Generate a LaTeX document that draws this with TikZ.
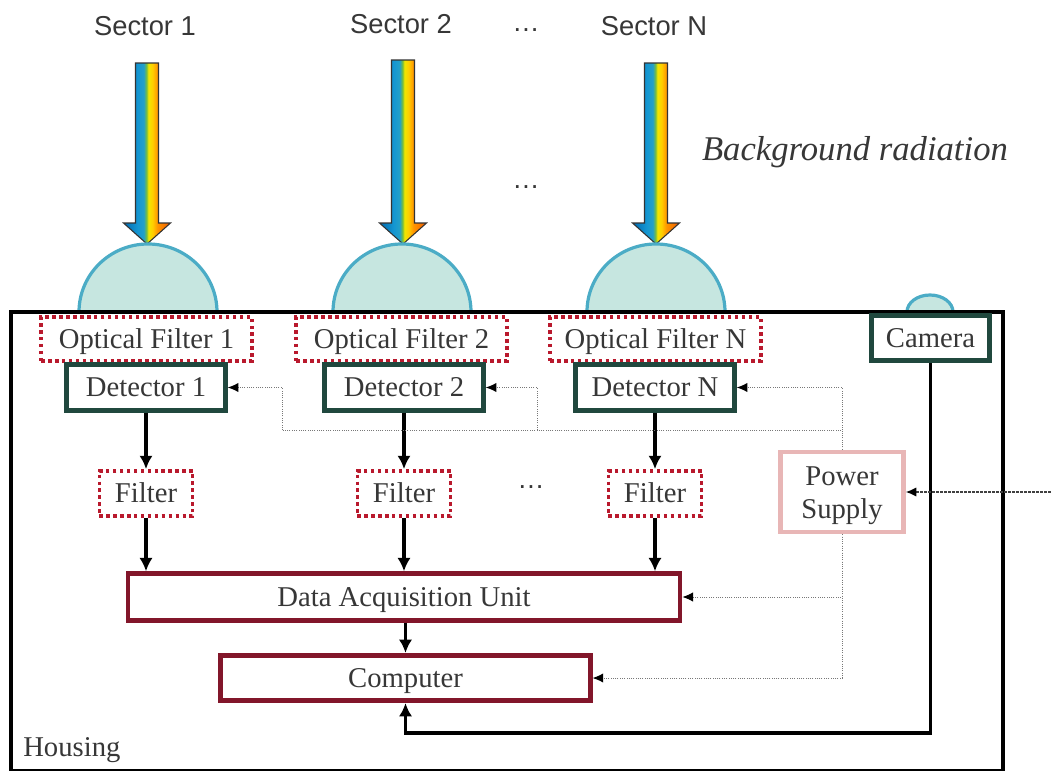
\documentclass[tikz,border=0pt]{standalone}
\usepackage{fontspec}
\setmainfont{Liberation Serif}
\newfontfamily\sectorfont{Liberation Sans}
\usetikzlibrary{arrows.meta}
\definecolor{txt}{RGB}{55,55,55}
\definecolor{ofred}{RGB}{185,25,45}
\definecolor{detgreen}{RGB}{32,72,62}
\definecolor{daqred}{RGB}{130,22,42}
\definecolor{pspink}{RGB}{232,182,182}
\definecolor{domefill}{RGB}{198,230,224}
\definecolor{domeline}{RGB}{75,172,198}
\definecolor{pwgray}{RGB}{120,120,120}
\definecolor{ra}{RGB}{0,105,175}
\definecolor{rb}{RGB}{20,150,210}
\definecolor{rc}{RGB}{35,160,200}
\definecolor{rd}{RGB}{120,190,60}
\definecolor{re}{RGB}{240,230,0}
\definecolor{rf}{RGB}{255,205,0}
\definecolor{rg}{RGB}{255,150,0}
\definecolor{rh}{RGB}{240,90,0}
\pgfdeclarehorizontalshading{rainbow}{100bp}{color(0bp)=(ra); color(25bp)=(ra); color(40bp)=(rb); color(46.5bp)=(rc); color(49.5bp)=(rd); color(51.5bp)=(re); color(56bp)=(rf); color(61bp)=(rg); color(75bp)=(rh); color(100bp)=(rh)}
\newcommand\radarrow[2]{%
  \path[draw=black!80, line width=0.8pt, shade, shading=rainbow]
    ({#1-11.5},#2) -- ({#1+11.5},#2) -- ({#1+11.5},223) -- ({#1+23.5},223)
    -- (#1,244) -- ({#1-23.5},223) -- ({#1-11.5},223) -- cycle;}
\tikzset{
  boxtext/.style={font=\fontsize{21.5}{24.75}\selectfont, text=txt, inner sep=0pt, align=center},
  boxlabel/.style={boxtext, text height=14pt, text depth=0.5pt},
  ofbox/.style={boxlabel, draw=ofred, line width=2.6pt, dash pattern=on 2.6pt off 2.6pt, minimum width=158pt, minimum height=33pt},
  fbox/.style={boxlabel, draw=ofred, line width=2.6pt, dash pattern=on 2.6pt off 2.6pt, minimum width=70pt, minimum height=34pt},
  detbox/.style={boxlabel, draw=detgreen, line width=3.6pt, minimum width=119pt, minimum height=34pt},
  daqbox/.style={boxlabel, draw=daqred, line width=3.6pt, minimum height=35pt},
  psbox/.style={draw=pspink, line width=3.6pt, minimum width=92pt, minimum height=60pt, inner sep=0pt},
  dome/.style={fill=domefill, draw=domeline, line width=2.4pt},
  flow/.style={line width=2.7pt, -{Latex[length=10pt,width=10pt]}},
  pw/.style={draw=pwgray, line width=0.7pt, densely dotted},
  pwa/.style={pw, -{Latex[length=8pt,width=7pt,color=black]}},
  extline/.style={draw=black!75, line width=1pt, dash pattern=on 2pt off 1pt, -{Latex[length=8pt,width=7pt,color=black]}},
  sector/.style={font=\sectorfont\fontsize{20.5}{24}\selectfont, text=txt, inner sep=0pt}
}
\begin{document}
\begin{tikzpicture}[x=0.75pt,y=-0.75pt]
\useasboundingbox (0,0) rectangle (1051,771);
\fill[white] (0,0) rectangle (1051,771);

% sector labels
\node[sector] (s1) at (145,26) {Sector 1};
\node[sector] (s2) at (401,24) {Sector 2};
\node[sector] (sdots) at (526,30) {\dots};
\node[sector] (sN) at (654,26) {Sector N};
\node[sector] (mdots) at (526,187) {\dots};
\node[font=\itshape\fontsize{26}{30}\selectfont, text=txt, inner sep=0pt] (bg) at (855,152) {Background radiation};

% radiation arrows
\radarrow{147}{63}
\radarrow{403}{60}
\radarrow{656}{63}

% domes
\begin{scope}
  \clip (0,0) rectangle (1051,312);
  \foreach \cx in {148,402,656} \draw[dome] (\cx,312) ellipse [x radius=69, y radius=68];
  \draw[dome] (930,312) ellipse [x radius=23, y radius=17];
\end{scope}

% housing
\draw[line width=3pt] (11,312) rectangle (1003,771);
\node[boxtext, anchor=west] (housing) at (23,750) {Housing};

% optical filters
\node[ofbox] (of1) at (146.5,339) {Optical Filter 1};
\node[ofbox] (of2) at (401.5,339) {Optical Filter 2};
\node[ofbox] (ofN) at (655.5,339) {Optical Filter N};

% camera
\node[detbox, minimum width=89pt] (cam) at (930.5,338) {Camera};

% detectors
\node[detbox] (d1) at (146,387.5) {Detector 1};
\node[detbox] (d2) at (404,387.5) {Detector 2};
\node[detbox] (dN) at (655,387.5) {Detector N};

% filters
\node[fbox] (f1) at (146,493.5) {Filter};
\node[fbox] (f2) at (404,493.5) {Filter};
\node[fbox] (fN) at (655,493.5) {Filter};
\node[sector] (fdots) at (531,487) {\dots};

% power supply
\node[psbox] (ps) at (842,492) {};
\node[boxtext] (pslabel) at (842,496) {Power\\Supply};

% DAQ and computer
\node[daqbox, minimum width=414pt] (daq) at (404,597) {Data Acquisition Unit};
\node[daqbox, minimum width=277pt, minimum height=34pt] (comp) at (405.5,678) {Computer};

% signal flow
\foreach \n in {1,2,N} {
  \draw[flow] (d\n.south) -- (f\n.north);
  \draw[flow] (f\n.south) -- (f\n.south |- daq.north);
}
\draw[flow] (daq.south -| comp.north) -- (comp.north);
\coordinate (cb) at (933,733);
\draw[flow] (cam.south) |- (cb -| comp.south) -- (comp.south);

% power distribution
\coordinate (h1) at (282,430);
\coordinate (h2) at (537,430);
\coordinate (ext) at (1055,492);
\draw[pw] (ps.north) -- (ps.north |- h1) -- (h1);
\draw[pwa] (ps.north |- h1) |- (dN.east);
\draw[pwa] (h1) |- (d1.east);
\draw[pwa] (h2) |- (d2.east);
\draw[pwa] (ps.south) |- (daq.east);
\draw[pwa] (ps.south) |- (comp.east);
\draw[extline] (ext) -- (ps.east);
\end{tikzpicture}
\end{document}
